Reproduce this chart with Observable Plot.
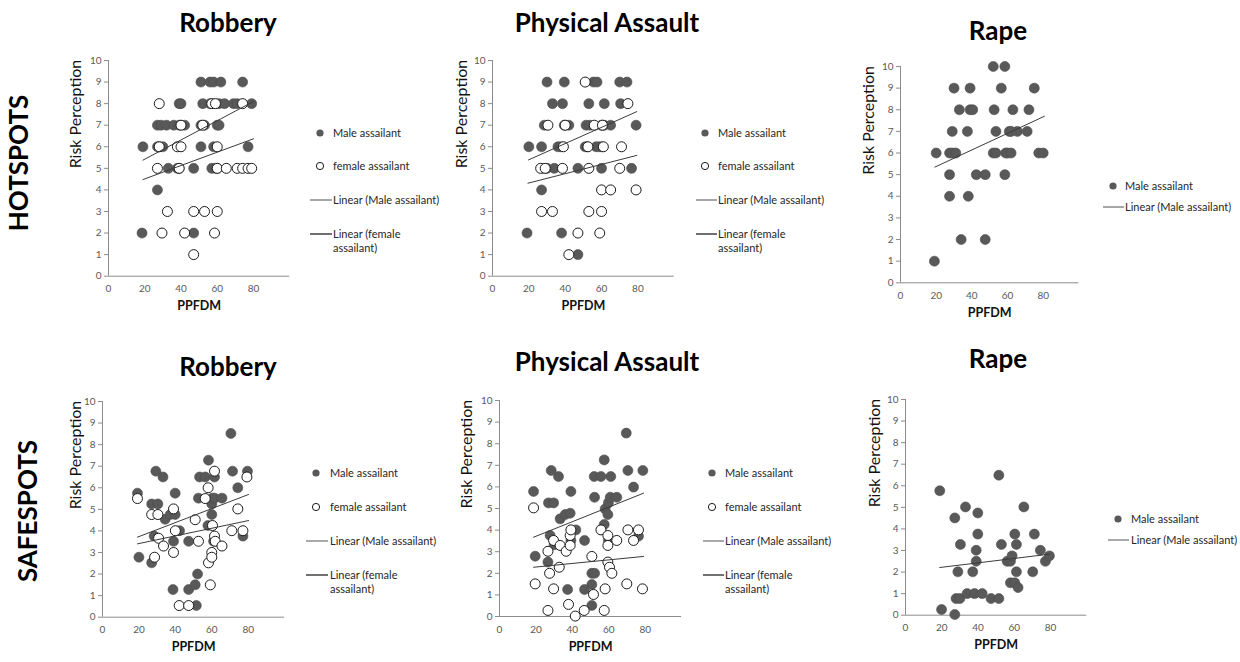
<!DOCTYPE html>
<html><head><meta charset="utf-8">
<script src="https://cdn.jsdelivr.net/npm/d3@7"></script>
<script src="https://cdn.jsdelivr.net/npm/@observablehq/plot@0.6"></script>
<style>
body{margin:0;background:#fff;}
#root{position:relative;width:1240px;height:662px;overflow:hidden;font-family:Lato,"Open Sans",sans-serif;}
.t{position:absolute;white-space:nowrap;}
</style>
</head><body><div id="root"></div>
<script>
// ---------- data (PPFDM, Risk Perception) ----------
const xTickValues = [0, 20, 40, 60, 80];
const yTickValues = [0, 1, 2, 3, 4, 5, 6, 7, 8, 9, 10];
const columnTitles = ["Robbery", "Physical Assault", "Rape"];
const rowTitles = ["HOTSPOTS", "SAFESPOTS"];
const seriesNames = ["Male assailant", "female assailant", "Linear (Male assailant)", "Linear (female assailant)"];

const hotRobberyMale = [[51,9],[56,9],[58,9],[62,9],[74,9],
 [39,8],[40,8],[52,8],[56,8],[61,8],[64,8],[69,8],[71,8],[79,8],
 [27,7],[29,7],[32,7],[36,7],[39,7],[42,7],[51,7],[53,7],[60,7],[61,7],
 [19,6],[27,6],[28,6],[30,6],[51,6],[58,6],[77,6],
 [33,5],[38,5],[39,5],[47,5],[57,5],[59,5],[60,5],
 [27,4],[18.5,2],[47,2]];
const hotRobberyFemale = [[28,8],[57,8],[59,8],[74,8],
 [40,7],[52,7],[28,6],[38,6],[40,6],[60,6],
 [27,5],[39,5],[60,5],[65,5],[71,5],[74,5],[77,5],[79,5],
 [32.5,3],[47,3],[53,3],[60,3],[29.5,2],[42,2],[58.5,2],[47,1]];
const hotRobberyTrendMale = [[19,5.38],[80,8.1]];
const hotRobberyTrendFemale = [[19,4.48],[80,6.37]];

const hotAssaultMale = [[30,9],[39.5,9],[55.5,9],[57.5,9],[70,9],[74,9],
 [33,8],[38.5,8],[53,8],[61.5,8],[70.5,8],
 [28.5,7],[39.5,7],[42,7],[51.5,7],[53.5,7],[60,7],[61.5,7],[65,7],[79,7],
 [20,6],[27,6],[36,6],[37.5,6],[51,6],[52,6],[57,6],[58.5,6],[60,6],
 [28,5],[30,5],[34,5],[47,5],[60,5],[76.5,5],
 [27,4],[19,2],[38,2],[47,1]];
const hotAssaultFemale = [[51,9],[74.5,8],
 [30.5,7],[40,7],[56,7],[60.5,7],[39,6],[52.5,6],[61,6],[71,6],
 [26.5,5],[29,5],[38.5,5],[53,5],[70,5],[60,4],[65,4],[79,4],
 [27,3],[33,3],[53,3],[60,3],[47,2],[59,2],[42,1]];
const hotAssaultTrendMale = [[19.8,5.39],[79.4,7.63]];
const hotAssaultTrendFemale = [[19.5,4.31],[79.4,5.6]];

const hotRapeMale = [[52,10],[58.5,10],
 [30,9],[39,9],[56.5,9],[75,9],
 [33,8],[39,8],[40.5,8],[52.5,8],[63,8],[72,8],
 [29,7],[37.5,7],[53.5,7],[61,7],[62,7],[65.5,7],[71,7],
 [20,6],[27.5,6],[29,6],[31,6],[52,6],[53.5,6],[59,6],[60,6],[62,6],[77.5,6],[80,6],
 [27.5,5],[42.5,5],[47.5,5],[58.5,5],[27.5,4],[38,4],[34,2],[47.5,2],[19,1]];
const hotRapeTrendMale = [[19.3,5.35],[80.7,7.7]];

const safeRobberyMale = [[19.2,5.75],[20,2.78],[27,5.25],[30.4,5.25],[27,2.52],[29.3,6.77],[28.4,3.76],[33.2,6.5],
 [34.4,4.54],[37.2,4.76],[39.9,5.75],[39.9,4.76],[38.7,1.28],[39,3.52],[42.3,4.01],[47.3,3.52],[47.3,1.28],
 [52.2,2.0],[50.9,1.5],[51.5,0.54],[52.7,5.52],[53.3,6.5],[56.4,6.5],[58.2,7.28],[57.9,4.25],[60,5.25],
 [60.4,5.52],[61.5,5.52],[61.5,6.5],[65.6,5.52],[60,4.76],[61,3.52],[70.5,8.52],[71.4,6.77],[74.3,6.0],
 [77.1,3.76],[79.6,6.77]];
const safeRobberyFemale = [[19.2,5.5],[27,4.76],[30.4,4.76],[28.6,2.78],[30.8,3.66],[33.5,3.3],[39,5.02],[39,3.0],
 [40,4.01],[42.1,0.54],[47.3,0.54],[50.9,4.52],[52.7,3.52],[56.4,5.5],[58,6.0],[58.2,2.52],[59.2,1.5],[60,3.0],
 [60,2.78],[60.4,4.25],[61.5,6.77],[61.5,3.76],[61.9,3.52],[65.6,3.3],[71,4.01],[74.3,5.02],[77.1,4.01],[79.3,6.5]];
const safeRobberyTrendMale = [[19.2,3.71],[80.2,5.69]];
const safeRobberyTrendFemale = [[19.2,3.4],[80.2,4.48]];

const safeAssaultMale = [[18.7,5.79],[19.6,2.79],[28.4,6.76],[26.9,5.26],[29.7,5.26],[32.4,6.48],[26.6,2.52],
 [27.8,3.75],[30,3.32],[33.3,4.52],[36.1,4.72],[38.8,4.78],[39.2,5.79],[39.2,3.52],[41.9,4.01],[37.4,1.25],
 [46.7,3.52],[46.7,1.25],[52.2,5.52],[52,6.48],[55.7,6.48],[57.5,7.25],[57.5,4.26],[61.1,6.48],[58,4.98],
 [59.8,5.26],[60.8,5.52],[64.4,5.52],[59.5,4.72],[59.8,3.52],[69.6,8.49],[70.5,6.76],[73.6,5.99],[76.3,3.72],
 [78.7,6.76],[50.7,2.0],[52.2,2.0],[50.7,1.48],[50.7,0.51]];
const safeAssaultFemale = [[18.7,5.03],[19.6,1.51],[26.6,3.02],[27.5,2.0],[26.6,0.28],[29.7,3.52],[29.7,1.28],
 [32.8,2.28],[33.3,3.29],[36.6,3.02],[37.9,0.56],[38.8,3.75],[39.2,4.01],[38.8,3.29],[41.6,0.02],[46.5,0.28],
 [50.7,2.78],[51.6,1.02],[55.7,4.01],[58,1.28],[57.5,0.28],[59.5,3.75],[59.5,3.29],[59.5,2.52],[60.4,2.28],
 [61.7,2.0],[64.4,3.52],[69.9,1.51],[70.5,4.01],[73.6,3.52],[76.3,4.01],[78.5,1.28]];
const safeAssaultTrendMale = [[18.7,3.67],[79.1,5.71]];
const safeAssaultTrendFemale = [[18.7,2.28],[79.1,2.78]];

const safeRapeMale = [[18.9,5.77],[19.9,0.26],[27.2,4.51],[27.2,0.03],[27.9,0.77],[30,0.77],[28.9,2.01],[30.3,3.28],
 [33.1,5.02],[34,1.0],[37.1,2.01],[38.1,1.0],[39,3.01],[39,2.5],[39.9,3.76],[39.9,4.74],[42.3,1.0],[47.2,0.77],
 [51.5,0.77],[51.5,6.49],[52.9,3.28],[56.1,2.5],[57.9,2.5],[58.8,2.75],[57.9,1.5],[60.3,1.5],[60.3,3.76],
 [61.2,3.28],[61.2,2.01],[62.1,1.28],[65.3,5.02],[70.2,2.01],[71.1,3.76],[74.4,3.01],[77.2,2.5],[79.4,2.75]];
const safeRapeTrendMale = [[18.9,2.21],[79.4,2.83]];

// ---------- layout ----------
const root = document.getElementById("root");
const FONT = 'Lato, "Open Sans", sans-serif';
const MALE_FILL = "#595959", LINE = "#3a3a3a";

function panel(L, male, female, tMale, tFemale) {
  const mL = 50, mR = 4, mT = 6, mB = 46;
  const innerW = (L.x80 - L.x0) / 80 * 100;
  const innerH = L.y0 - L.y10;
  const marks = [
    Plot.ruleY([0], {stroke: "#8c8c8c"}),
    Plot.ruleX([0], {stroke: "#8c8c8c"}),
    Plot.axisY({ticks: yTickValues, tickSize: 4, tickPadding: 3, label: null, fontSize: 10, stroke: "#8c8c8c", fill: "#595959"}),
    Plot.axisX({ticks: xTickValues, tickSize: 0, tickPadding: 9, label: null, fontSize: 10, fill: "#595959"}),
    Plot.dot(male, {x: d => d[0], y: d => d[1], r: 5, fill: MALE_FILL, stroke: "#4d4d4d", strokeWidth: 0.6})
  ];
  if (female) marks.push(Plot.dot(female, {x: d => d[0], y: d => d[1], r: 5, fill: "white", stroke: "#1a1a1a", strokeWidth: 1}));
  marks.push(Plot.line(tMale, {x: d => d[0], y: d => d[1], stroke: LINE, strokeWidth: 1}));
  if (tFemale) marks.push(Plot.line(tFemale, {x: d => d[0], y: d => d[1], stroke: LINE, strokeWidth: 1}));
  marks.push(Plot.text(["Risk Perception"], {text: d => d, frameAnchor: "left", rotate: -90, dx: L.ylabDx, fontSize: 16, fill: "#111"}));
  marks.push(Plot.text(["PPFDM"], {text: d => d, frameAnchor: "bottom", dy: 34, fontSize: 12.5, fontWeight: "bold", fill: "#111"}));
  const svg = Plot.plot({
    width: innerW + mL + mR, height: innerH + mT + mB,
    marginLeft: mL, marginRight: mR, marginTop: mT, marginBottom: mB,
    x: {domain: [0, 100]}, y: {domain: [0, 10]},
    style: {fontFamily: FONT, fontSize: "10px", color: "#595959", background: "transparent", overflow: "visible"},
    marks
  });
  svg.style.position = "absolute";
  svg.style.left = (L.x0 - mL) + "px";
  svg.style.top = (L.y10 - mT) + "px";
  root.appendChild(svg);
}

function text(str, cx, cy, size, weight, rotate) {
  const d = document.createElement("div");
  d.className = "t";
  d.textContent = str;
  d.style.fontSize = size + "px";
  d.style.fontWeight = weight;
  d.style.color = "#000";
  d.style.left = cx + "px";
  d.style.top = cy + "px";
  d.style.transform = "translate(-50%,-50%)" + (rotate ? " rotate(-90deg)" : "");
  d.style.lineHeight = "1";
  root.appendChild(d);
}

function legend(G, names) {
  const ns = "http://www.w3.org/2000/svg";
  const svg = document.createElementNS(ns, "svg");
  svg.setAttribute("width", 200); svg.setAttribute("height", 140);
  svg.style.position = "absolute"; svg.style.left = "0px"; svg.style.top = "0px"; svg.style.overflow = "visible";
  names.forEach((name, i) => {
    const y = G.rows[i];
    if (i < G.dots) {
      const c = document.createElementNS(ns, "circle");
      c.setAttribute("cx", G.mx); c.setAttribute("cy", y); c.setAttribute("r", 3.6);
      if (i === 0) { c.setAttribute("fill", MALE_FILL); }
      else { c.setAttribute("fill", "white"); c.setAttribute("stroke", "#1a1a1a"); }
      svg.appendChild(c);
    } else {
      const l = document.createElementNS(ns, "line");
      l.setAttribute("x1", G.lx1); l.setAttribute("x2", G.lx2); l.setAttribute("y1", y); l.setAttribute("y2", y);
      l.setAttribute("stroke", i === G.dots ? "#6f6f6f" : "#111"); l.setAttribute("stroke-width", 1.2);
      svg.appendChild(l);
    }
    const t = document.createElementNS(ns, "text");
    t.setAttribute("x", G.tx); t.setAttribute("y", y); t.setAttribute("dy", "0.35em");
    t.setAttribute("font-size", 11); t.setAttribute("font-family", FONT); t.setAttribute("fill", "#262626");
    const parts = name === "Linear (female assailant)" ? ["Linear (female", "assailant)"] : [name];
    parts.forEach((p, k) => {
      const s = document.createElementNS(ns, "tspan");
      s.setAttribute("x", G.tx); if (k > 0) s.setAttribute("dy", "1.25em");
      s.textContent = p; t.appendChild(s);
    });
    svg.appendChild(t);
  });
  root.appendChild(svg);
}

// panels
panel({x0: 107.7, x80: 252.7, y0: 275.7, y10: 60, ylabDx: -33}, hotRobberyMale, hotRobberyFemale, hotRobberyTrendMale, hotRobberyTrendFemale);
panel({x0: 492.3, x80: 637.7, y0: 275.7, y10: 60, ylabDx: -31}, hotAssaultMale, hotAssaultFemale, hotAssaultTrendMale, hotAssaultTrendFemale);
panel({x0: 900, x80: 1042.7, y0: 282.3, y10: 66, ylabDx: -32}, hotRapeMale, null, hotRapeTrendMale, null);
panel({x0: 102.3, x80: 248, y0: 616.7, y10: 401, ylabDx: -27}, safeRobberyMale, safeRobberyFemale, safeRobberyTrendMale, safeRobberyTrendFemale);
panel({x0: 499.3, x80: 645, y0: 616, y10: 400, ylabDx: -33}, safeAssaultMale, safeAssaultFemale, safeAssaultTrendMale, safeAssaultTrendFemale);
panel({x0: 905, x80: 1050, y0: 615, y10: 399.3, ylabDx: -31}, safeRapeMale, null, safeRapeTrendMale, null);

// titles
text(columnTitles[0], 228, 22, 26, "bold");
text(columnTitles[1], 607, 22, 26, "bold");
text(columnTitles[2], 998, 30, 26, "bold");
text(columnTitles[0], 228, 366, 26, "bold");
text(columnTitles[1], 607, 361, 26, "bold");
text(columnTitles[2], 998, 358, 26, "bold");
text(rowTitles[0], 18, 163, 26, "bold", true);
text(rowTitles[1], 27, 511, 26, "bold", true);

// legends
legend({mx: 320, tx: 333, lx1: 310, lx2: 332, rows: [133, 166, 200, 234], dots: 2}, seriesNames);
legend({mx: 705, tx: 718, lx1: 696, lx2: 717, rows: [133, 166, 200, 234], dots: 2}, seriesNames);
legend({mx: 1113, tx: 1125, lx1: 1103, lx2: 1124, rows: [186, 207], dots: 1}, [seriesNames[0], seriesNames[2]]);
legend({mx: 316, tx: 330, lx1: 306, lx2: 328, rows: [473, 507, 541, 575], dots: 2}, seriesNames);
legend({mx: 712, tx: 725, lx1: 703, lx2: 724, rows: [473, 507, 541, 575], dots: 2}, seriesNames);
legend({mx: 1118, tx: 1131, lx1: 1108, lx2: 1129, rows: [519, 540], dots: 1}, [seriesNames[0], seriesNames[2]]);
</script></body></html>
